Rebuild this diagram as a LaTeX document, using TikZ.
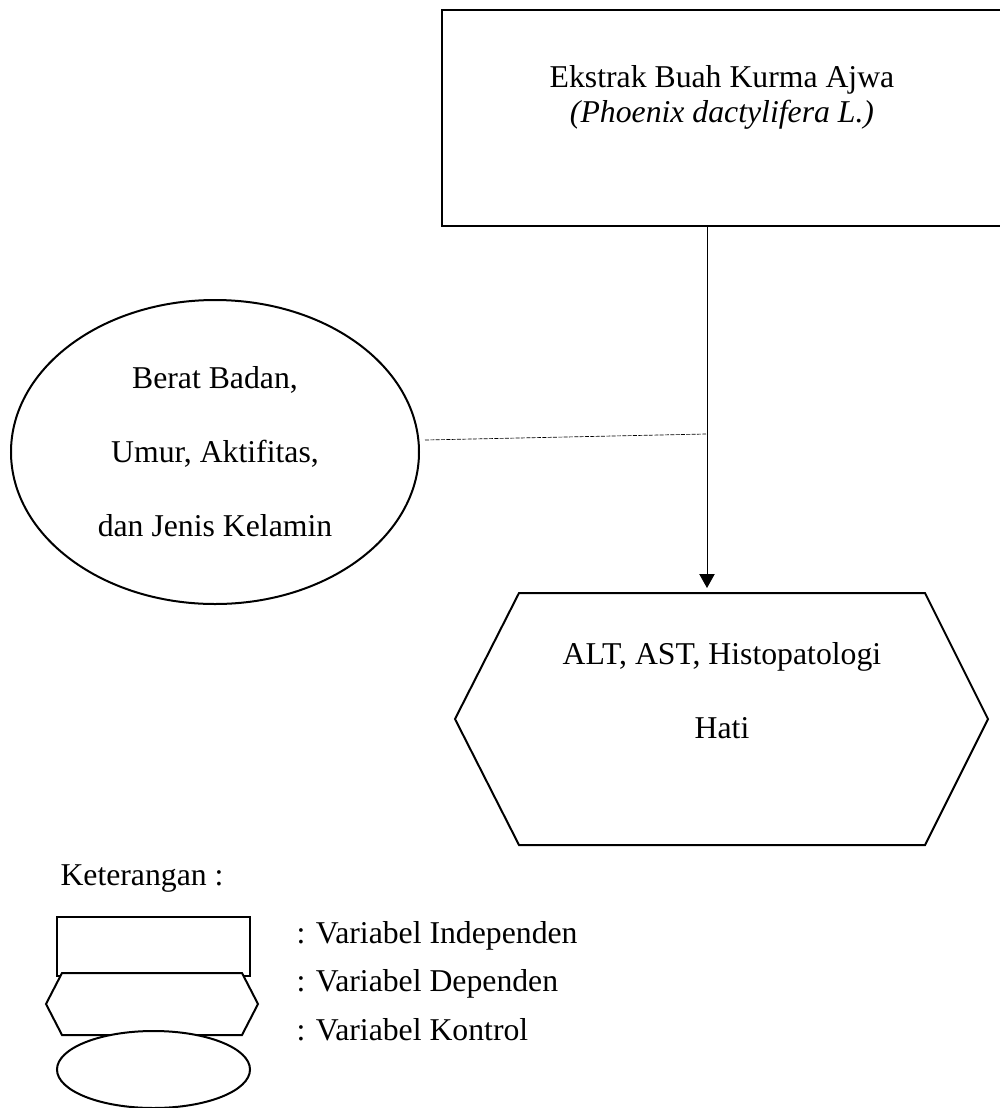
\documentclass[tikz,border=0pt]{standalone}
\usepackage{fontspec}
\setmainfont{Liberation Serif}
\usetikzlibrary{shapes.geometric,arrows.meta,calc}

\newcommand{\hurufteks}{\fontsize{23.8pt}{26.3pt}\selectfont}
\newcommand{\hurufrenggang}{\fontsize{23.8pt}{55.5pt}\selectfont}

\tikzset{every picture/.style={line width=0.75pt}}
\tikzset{
  garistebal/.style={line width=1.5},
  kotak/.style={draw, garistebal, inner sep=0pt},
  elips/.style={draw, ellipse, garistebal, fill=white, inner sep=0pt},
  teks/.style={font=\hurufteks},
  teksbaris/.style={anchor=base west, inner sep=0pt, font=\hurufteks}
}

\begin{document}
\begin{tikzpicture}[x=0.75pt,y=0.75pt,yscale=-1,xscale=1]
\useasboundingbox (0,0) rectangle (1000,1108);

%Shape: Rectangle (variabel independen)
\node [kotak, minimum width=420pt, minimum height=162pt] (ekstrak) at (722,118) {} ;
\node [teks, align=center] (judul) at (722,97.5) {Ekstrak Buah Kurma Ajwa\\\textit{(Phoenix dactylifera L.)}} ;

%Shape: Ellipse (variabel kontrol)
\node [elips, minimum width=306pt, minimum height=228pt, align=center, font=\hurufrenggang] (kontrol) at (215,452) {Berat Badan,\\Umur, Aktifitas,\\dan Jenis Kelamin} ;

%Shape: Hexagon (variabel dependen)
\draw [garistebal]  (455,719) -- (519,593) -- (925,593) -- (988,719) -- (925,845) -- (519,845) -- cycle ;
\node [align=center, font=\hurufrenggang] (hasil) at (722,691) {ALT, AST, Histopatologi\\Hati} ;

%Straight Lines
\coordinate (panah) at (707,588) ;
\coordinate (temu) at (706,434) ;
\draw [-{Triangle[length=10.5pt,width=11.5pt]}]  (ekstrak.south -| panah) -- (panah) ;
\draw [line width=0.5, dash pattern=on 3pt off 1pt]  ($(kontrol.east)+(5,-12)$) -- (temu) ;

%Keterangan
\node [teksbaris] (keterangan) at (60,885) {Keterangan :} ;
\node [kotak, fill=white, minimum width=144.75pt, minimum height=44.25pt] (lgkotak) at (153.5,946.5) {} ;
\draw [garistebal, fill=white]  (46,1004) -- (62,973) -- (242,973) -- (258,1004) -- (242,1035) -- (62,1035) -- cycle ;
\node [elips, minimum width=144.75pt, minimum height=57.75pt] (lgelips) at (153.5,1069.5) {} ;

\node [teksbaris] (lgindependen) at (296,943) {: Variabel Independen} ;
\node [teksbaris] (lgdependen) at (296,991) {: Variabel Dependen} ;
\node [teksbaris] (lgkontrol) at (296,1040) {: Variabel Kontrol} ;
\end{tikzpicture}
\end{document}
